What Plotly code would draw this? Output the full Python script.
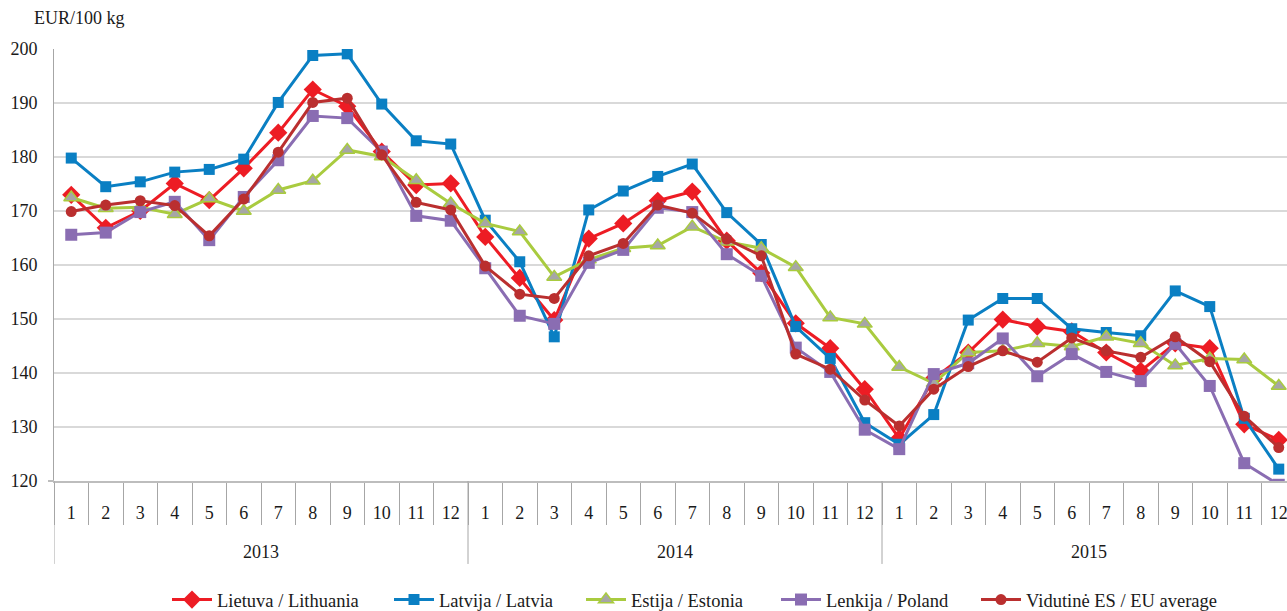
import plotly.graph_objects as go

# Monthly prices, EUR/100 kg, Jan 2013 - Dec 2015
years = ["2013", "2014", "2015"]
months = [str(m) for m in range(1, 13)]

lithuania = [173.0, 166.9, 170.0, 175.1, 172.0, 177.9, 184.5, 192.5, 189.4, 181.0, 174.8, 175.1,
             165.2, 157.6, 149.8, 164.9, 167.7, 171.9, 173.6, 164.5, 158.5, 149.2, 144.6, 137.0,
             127.9, 139.0, 143.8, 149.9, 148.6, 147.7, 143.8, 140.4, 145.5, 144.6, 130.5, 127.6]
latvia = [179.8, 174.5, 175.4, 177.2, 177.7, 179.6, 190.1, 198.8, 199.1, 189.8, 183.0, 182.4,
          168.3, 160.6, 146.7, 170.2, 173.7, 176.4, 178.7, 169.7, 163.8, 148.6, 142.7, 130.8,
          126.8, 132.3, 149.8, 153.8, 153.8, 148.2, 147.5, 146.9, 155.2, 152.3, 131.6, 122.2]
estonia = [172.5, 170.5, 170.7, 169.4, 172.3, 170.0, 173.9, 175.6, 181.3, 180.1, 175.7, 171.4,
           167.7, 166.2, 157.8, 161.0, 163.1, 163.6, 167.1, 164.3, 163.1, 159.6, 150.3, 149.1,
           141.1, 138.1, 143.8, 144.1, 145.5, 144.9, 146.7, 145.5, 141.4, 142.7, 142.5, 137.6]
poland = [165.6, 166.0, 169.8, 171.7, 164.6, 172.6, 179.4, 187.6, 187.2, 181.0, 169.1, 168.2,
          159.4, 150.6, 149.1, 160.4, 162.8, 170.6, 169.8, 162.0, 158.0, 144.7, 140.2, 129.5,
          125.9, 139.8, 141.8, 146.4, 139.4, 143.5, 140.2, 138.5, 145.4, 137.6, 123.3, 119.3]
eu_average = [169.9, 171.1, 171.9, 171.0, 165.4, 172.2, 180.9, 190.1, 190.9, 180.4, 171.6, 170.2,
              159.8, 154.6, 153.8, 161.7, 164.0, 171.1, 169.6, 164.8, 161.7, 143.5, 140.7, 135.0,
              130.2, 137.0, 141.2, 144.1, 142.0, 146.5, 144.1, 142.9, 146.7, 142.1, 132.0, 126.2]

series_names = ["Lietuva / Lithuania", "Latvija / Latvia", "Estija / Estonia",
                "Lenkija / Poland", "Vidutinė ES / EU average"]

categories = [f"{y}-{m}" for y in years for m in months]
month_labels = [m for _ in years for m in months]

FONT = "Times New Roman, Liberation Serif, DejaVu Serif, serif"
TEXT = "#1a1a1a"
AXIS_GREY = "#A6A6A6"
W, H = 1287, 611

styles = [
    dict(line="#ED1C24", marker=dict(color="#ED1C24", symbol="diamond", size=14)),
    dict(line="#0A7FC3", marker=dict(color="#0A7FC3", symbol="square", size=11)),
    dict(line="#A9CB3F", marker=dict(color="#A6A6A6", symbol="triangle-up", size=13,
                                     line=dict(color="#A9CB3F", width=1.5))),
    dict(line="#8A6DB2", marker=dict(color="#8A6DB2", symbol="square", size=12)),
    dict(line="#BA2F2F", marker=dict(color="#BA2F2F", symbol="circle", size=11)),
]

# one legend per series so each entry sits at its own spot along the bottom row
legend_ids = ["legend2", "legend3", "legend4", "legend5", "legend6"]
legend_left_px = [167, 389, 581, 776, 976]

fig = go.Figure()
for name, values, st, lg in zip(series_names, [lithuania, latvia, estonia, poland, eu_average],
                                styles, legend_ids):
    fig.add_trace(go.Scatter(
        x=categories, y=values, name=name, mode="lines+markers",
        line=dict(color=st["line"], width=3),
        marker=st["marker"], legend=lg,
    ))

# Plot spans 54..1287 px horizontally; the final month is partly cut at the right edge
plot_w = W - 54
cat_w = 34.5
x_max = plot_w / cat_w - 0.5

shapes = []
annotations = []
for k, y in enumerate(years):
    start = k * len(months) - 0.5
    shapes.append(dict(type="line", xref="x", yref="paper", x0=start, x1=start,
                       y0=0, y1=-0.192, line=dict(color=AXIS_GREY, width=1)))
    annotations.append(dict(x=k * len(months) + (len(months) - 1) / 2, xref="x",
                            y=-0.164, yref="paper", text=y, showarrow=False,
                            font=dict(family=FONT, size=18, color=TEXT),
                            xanchor="center", yanchor="middle"))
# short stub of the category axis to the left of the value axis
shapes.append(dict(type="line", xref="paper", yref="paper", x0=-6 / plot_w, x1=0,
                   y0=0, y1=0, line=dict(color="#BDBDBD", width=2)))

annotations.append(dict(x=-0.0178, xref="paper", y=1.072, yref="paper", text="EUR/100 kg",
                        showarrow=False, xanchor="left", yanchor="middle",
                        font=dict(family=FONT, size=18, color=TEXT)))

legend_common = dict(orientation="h", xref="container", yref="container",
                     xanchor="left", y=(H - 600) / H, yanchor="middle",
                     font=dict(family=FONT, size=18.5, color=TEXT), itemwidth=40,
                     bgcolor="rgba(0,0,0,0)", borderwidth=0)
legend_layout = {lg: dict(legend_common, x=px / W) for lg, px in zip(legend_ids, legend_left_px)}

fig.update_layout(
    width=W, height=H,
    margin=dict(l=54, r=0, t=49, b=130),
    paper_bgcolor="white", plot_bgcolor="white",
    font=dict(family=FONT, size=18, color=TEXT),
    shapes=shapes, annotations=annotations,
    xaxis=dict(type="category", range=[-0.5, x_max],
               tickmode="array", tickvals=categories, ticktext=month_labels,
               tickson="boundaries", ticks="outside", ticklen=42, tickcolor=AXIS_GREY,
               tickwidth=1, ticklabelstandoff=14,
               tickfont=dict(family=FONT, size=18, color=TEXT),
               showline=True, linecolor="#BDBDBD", linewidth=2,
               showgrid=False, zeroline=False),
    yaxis=dict(range=[120, 200], dtick=10, tick0=120,
               showgrid=True, gridcolor="#D9D9D9", gridwidth=1.5,
               showline=True, linecolor=AXIS_GREY, linewidth=1,
               zeroline=False, ticks="", ticklabelstandoff=12,
               tickfont=dict(family=FONT, size=18, color=TEXT)),
    **legend_layout,
)

fig.write_html("out.html")
